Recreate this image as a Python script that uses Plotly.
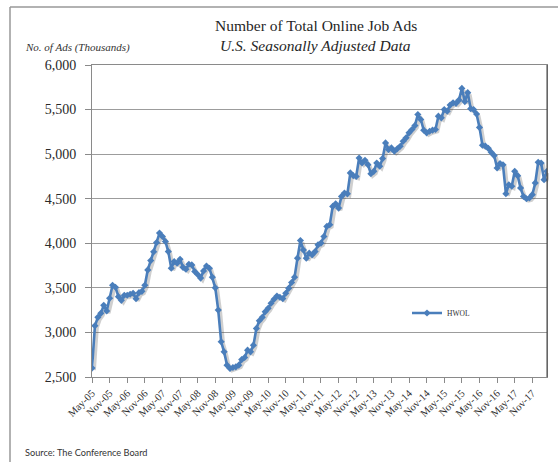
import plotly.graph_objects as go
import pandas as pd

# Monthly HWOL values (thousands of ads), May-05 .. Apr-18
values = [
    2600, 3075, 3169, 3214, 3304, 3240, 3383, 3529, 3507, 3401, 3360, 3417,
    3417, 3428, 3439, 3379, 3446, 3461, 3529, 3701, 3806, 3904, 4008, 4114,
    4076, 4020, 3907, 3720, 3795, 3777, 3821, 3730, 3709, 3765, 3757, 3683,
    3650, 3610, 3690, 3745, 3720, 3620, 3500, 3251, 2895, 2782, 2633, 2595,
    2607, 2614, 2633, 2695, 2719, 2801, 2782, 2857, 3045, 3131, 3169, 3232,
    3270, 3327, 3372, 3409, 3395, 3380, 3440, 3495, 3560, 3620, 3833, 4031,
    3926, 3833, 3889, 3870, 3907, 3983, 4002, 4076, 4189, 4208, 4414, 4444,
    4395, 4526, 4564, 4555, 4789, 4759, 4750, 4957, 4901, 4931, 4882, 4780,
    4807, 4901, 4864, 4950, 5126, 5051, 5070, 5032, 5060, 5089, 5145, 5183,
    5239, 5276, 5320, 5445, 5389, 5269, 5239, 5257, 5269, 5276, 5426, 5407,
    5501, 5482, 5550, 5576, 5570, 5606, 5737, 5590, 5690, 5510, 5500, 5450,
    5300, 5100, 5090, 5065, 5020, 4984, 4845, 4894, 4880, 4556, 4657, 4640,
    4807, 4759, 4620, 4526, 4500, 4508, 4545, 4677, 4909, 4900, 4714, 4807,
]
start_month = "2005-05"
categories = pd.date_range(start_month, periods=len(values), freq="MS").strftime("%b-%y").tolist()
tick_labels = categories[::6]
y_ticks = [2500, 3000, 3500, 4000, 4500, 5000, 5500, 6000]
series_name = "HWOL"

# ---- layout geometry (pixels) ----
W, H = 558, 462
ML, MR, MT, MB = 92, 9, 65, 83
PW = W - ML - MR   # 457
PH = H - MT - MB   # 314
SH = 2             # shadow offset px


def xp(px):
    return (px - ML) / PW


def yp(py):
    return (MT + PH - py) / PH


BLUE = "#4A7EBB"
GRID = "#9c9c9c"
AXC = "#8a8a8a"
SERIF = "Liberation Serif"

fig = go.Figure()
# base subplot (axes + grid only)
fig.add_trace(go.Scatter(x=categories, y=values, xaxis="x", yaxis="y", mode="lines",
                         line=dict(color="rgba(0,0,0,0)", width=1),
                         showlegend=False, hoverinfo="skip"))
# soft shadow
fig.add_trace(go.Scatter(x=categories, y=values, xaxis="x2", yaxis="y2", mode="lines",
                         line=dict(color="rgba(70,70,70,0.26)", width=3.8),
                         showlegend=False, hoverinfo="skip"))
# main series
fig.add_trace(go.Scatter(x=categories, y=values, xaxis="x3", yaxis="y3", mode="lines+markers",
                         name=series_name,
                         line=dict(color=BLUE, width=2.6),
                         marker=dict(symbol="diamond", size=5.5, color=BLUE)))

xr = [0, len(values) - 1]
yr = [y_ticks[0], y_ticks[-1]]
xdom = [0, (PW - SH) / PW]
ydom = [SH / PH, 1]
cat = dict(type="category", categoryorder="array", categoryarray=categories, range=xr)

fig.update_layout(
    width=W, height=H,
    margin=dict(l=ML, r=MR, t=MT, b=MB, pad=0),
    paper_bgcolor="white", plot_bgcolor="rgba(0,0,0,0)",
    font=dict(family=SERIF, color="#333333"),
    xaxis=dict(**cat, domain=xdom, anchor="y", tickmode="array", tickvals=tick_labels,
               ticktext=tick_labels, tickangle=-45, ticks="outside", ticklen=5,
               tickcolor=AXC, showline=True, linecolor=AXC, linewidth=1, mirror=True,
               showgrid=False, zeroline=False, automargin=False,
               tickfont=dict(family=SERIF, size=10.5, color="#2a2a2a")),
    yaxis=dict(domain=ydom, anchor="x", range=yr, tickmode="array", tickvals=y_ticks,
               tickformat=",d", ticks="outside", ticklen=6, tickcolor=AXC,
               showline=True, linecolor=AXC, linewidth=1, mirror=True,
               showgrid=True, gridcolor=GRID, gridwidth=1, zeroline=False,
               ticklabelstandoff=6, automargin=False,
               tickfont=dict(family=SERIF, size=14, color="#2a2a2a")),
    xaxis2=dict(**cat, domain=[SH / PW, 1], anchor="y2", visible=False),
    yaxis2=dict(domain=[0, (PH - SH) / PH], anchor="x2", range=yr, visible=False),
    xaxis3=dict(**cat, domain=xdom, anchor="y3", visible=False),
    yaxis3=dict(domain=ydom, anchor="x3", range=yr, visible=False),
    showlegend=True,
    legend=dict(x=xp(407), y=yp(313), xanchor="left", yanchor="middle",
                bgcolor="rgba(0,0,0,0)", itemwidth=30,
                font=dict(family=SERIF, size=7.5, color="#333333")),
    annotations=[
        dict(text="Number of Total Online Job Ads", x=xp(315.5), y=yp(25.5),
             xref="paper", yref="paper", xanchor="center", yanchor="middle",
             showarrow=False, font=dict(family=SERIF, size=15.5, color="#262626")),
        dict(text="<i>U.S. Seasonally Adjusted Data</i>", x=xp(315.5), y=yp(45),
             xref="paper", yref="paper", xanchor="center", yanchor="middle",
             showarrow=False, font=dict(family=SERIF, size=15.5, color="#262626")),
        dict(text="<i>No. of Ads (Thousands)</i>", x=xp(23), y=yp(48),
             xref="paper", yref="paper", xanchor="left", yanchor="middle",
             showarrow=False, font=dict(family=SERIF, size=11, color="#333333")),
        dict(text="Source: The Conference Board", x=xp(23), y=yp(452),
             xref="paper", yref="paper", xanchor="left", yanchor="middle",
             showarrow=False, font=dict(family="Lato", size=9.2, color="#333333")),
    ],
    shapes=[
        # darker right edge of plot area
        dict(type="line", xref="paper", yref="paper", x0=xdom[1], x1=xdom[1],
             y0=ydom[0], y1=1, line=dict(color="#404040", width=1)),
        # outer frame (top and left)
        dict(type="line", xref="paper", yref="paper", x0=xp(10), x1=xp(W + 2),
             y0=yp(7), y1=yp(7), line=dict(color="#999999", width=1.5)),
        dict(type="line", xref="paper", yref="paper", x0=xp(10), x1=xp(10),
             y0=yp(7), y1=yp(H + 2), line=dict(color="#999999", width=1.5)),
    ],
)

fig.write_html(
    "out.html",
    config={"displayModeBar": False},
    post_script="document.body.style.margin='0';document.body.style.padding='0';"
                "document.documentElement.style.overflow='hidden';",
)
